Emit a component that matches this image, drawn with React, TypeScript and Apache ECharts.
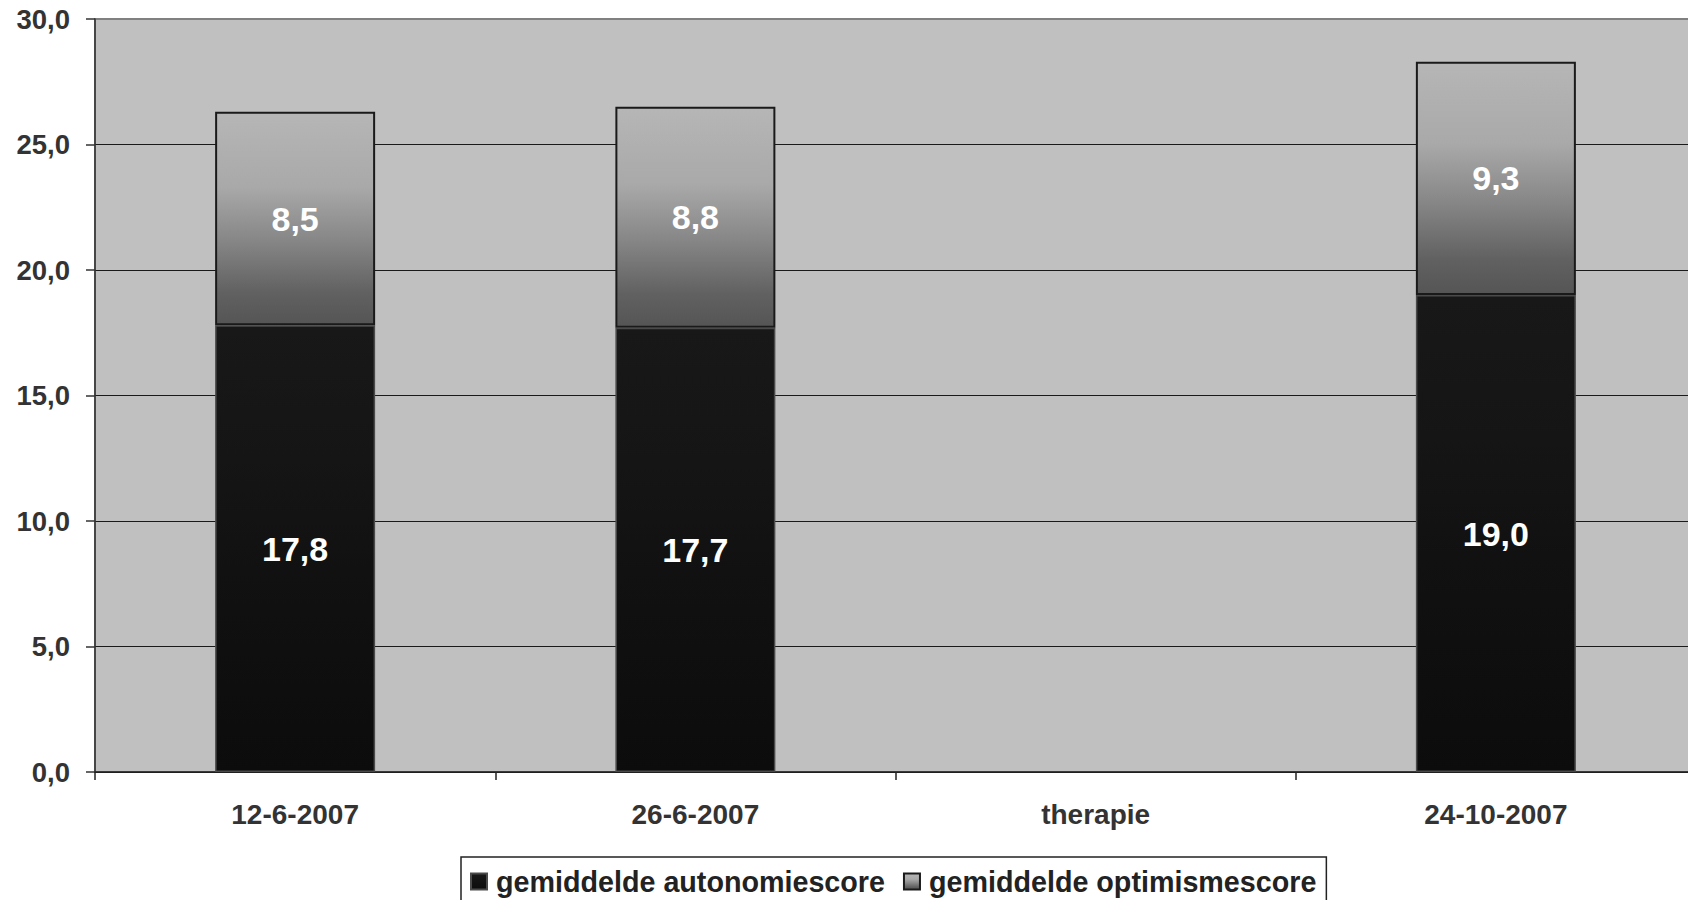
import React, { useEffect, useRef } from "react";
import * as echarts from "echarts";

// Meetmomenten en gemiddelde scores
const categories = ["12-6-2007", "26-6-2007", "therapie", "24-10-2007"];
const autonomieScores: (number | null)[] = [17.8, 17.7, null, 19.0];
const optimismeScores: (number | null)[] = [8.5, 8.8, null, 9.3];
const seriesNames = ["gemiddelde autonomiescore", "gemiddelde optimismescore"];
const yMin = 0;
const yMax = 30;
const yStep = 5;

const FONT = "'Liberation Sans', Arial, sans-serif";
const fmt = (v: number) => v.toFixed(1).replace(".", ",");

export default function App() {
  const ref = useRef<HTMLDivElement>(null);

  useEffect(() => {
    if (!ref.current) return;
    const chart = echarts.init(ref.current, undefined, { renderer: "svg" });

    const darkFill = new echarts.graphic.LinearGradient(0, 0, 0, 1, [
      { offset: 0, color: "#181818" },
      { offset: 0.3, color: "#151515" },
      { offset: 0.55, color: "#111111" },
      { offset: 1, color: "#0c0c0c" },
    ]);
    const greyFill = new echarts.graphic.LinearGradient(0, 0, 0, 1, [
      { offset: 0, color: "#b6b6b6" },
      { offset: 0.35, color: "#a9a9a9" },
      { offset: 0.6, color: "#878787" },
      { offset: 0.85, color: "#616161" },
      { offset: 1, color: "#555555" },
    ]);

    const valueLabel = {
      show: true,
      position: "inside",
      color: "#ffffff",
      fontFamily: FONT,
      fontWeight: "bold",
      fontSize: 34,
      formatter: (p: any) => (p.value == null ? "" : fmt(p.value)),
    };

    chart.setOption({
      animation: false,
      backgroundColor: "#ffffff",
      grid: {
        left: 95,
        top: 19,
        right: 0,
        bottom: 128,
        show: true,
        backgroundColor: "#c0c0c0",
        borderColor: "#808080",
        borderWidth: 2,
      },
      legend: {
        data: seriesNames,
        left: 461,
        top: 857,
        padding: [10, 10, 10, 9],
        itemGap: 18,
        itemWidth: 16,
        itemHeight: 16,
        icon: "rect",
        borderColor: "#222222",
        borderWidth: 1.5,
        backgroundColor: "#ffffff",
        textStyle: {
          fontFamily: FONT,
          fontWeight: "bold",
          fontSize: 28.7,
          color: "#222222",
          padding: [0, 0, 0, 4],
        },
      },
      xAxis: {
        type: "category",
        data: categories,
        boundaryGap: true,
        axisLine: { show: true, lineStyle: { color: "#222222", width: 1.5 } },
        axisTick: {
          show: true,
          alignWithLabel: false,
          length: 8,
          lineStyle: { color: "#222222", width: 1.5 },
        },
        axisLabel: {
          margin: 28,
          fontFamily: FONT,
          fontWeight: "bold",
          fontSize: 28,
          color: "#333333",
        },
        splitLine: { show: false },
      },
      yAxis: {
        type: "value",
        min: yMin,
        max: yMax,
        interval: yStep,
        axisLine: { show: true, lineStyle: { color: "#333333", width: 1.5 } },
        axisTick: {
          show: true,
          length: 9,
          lineStyle: { color: "#333333", width: 1.5 },
        },
        axisLabel: {
          margin: 25,
          fontFamily: FONT,
          fontWeight: "bold",
          fontSize: 27.5,
          color: "#333333",
          formatter: (v: number) => fmt(v),
        },
        splitLine: {
          show: true,
          showMaxLine: false,
          lineStyle: { color: "#1a1a1a", width: 1.2 },
        },
      },
      series: [
        {
          name: seriesNames[0],
          type: "bar",
          stack: "score",
          data: autonomieScores,
          barWidth: 160,
          itemStyle: {
            color: darkFill,
            borderColor: "#4a4a4a",
            borderWidth: 1.5,
          },
          label: valueLabel,
        },
        {
          name: seriesNames[1],
          type: "bar",
          stack: "score",
          data: optimismeScores,
          barWidth: 160,
          itemStyle: {
            color: greyFill,
            borderColor: "#1a1a1a",
            borderWidth: 2,
          },
          label: valueLabel,
        },
      ],
    });

    return () => chart.dispose();
  }, []);

  // The plot runs a few pixels past the right edge of the frame.
  return (
    <div
      style={{
        position: "fixed",
        left: 0,
        top: 0,
        width: 1688,
        height: 900,
        overflow: "hidden",
        background: "#ffffff",
      }}
    >
      <div ref={ref} style={{ width: 1696, height: 900 }} />
    </div>
  );
}
